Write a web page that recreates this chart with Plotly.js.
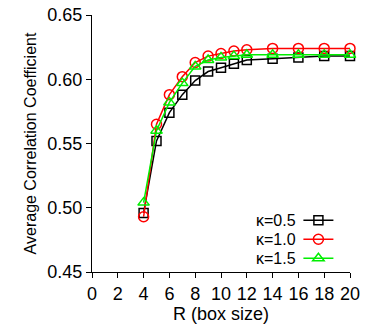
<!DOCTYPE html>
<html>
<head>
<meta charset="utf-8">
<script src="https://cdn.plot.ly/plotly-3.0.1.min.js"></script>
<style>html,body{margin:0;padding:0;background:#fff;}#chart{width:377px;height:332px;}</style>
</head>
<body>
<div id="chart"></div>
<script>
const R = [4, 5, 6, 7, 8, 9, 10, 11, 12, 14, 16, 18, 20];
const k05 = [0.496, 0.552, 0.574, 0.588, 0.599, 0.606, 0.609, 0.612, 0.615, 0.616, 0.617, 0.618, 0.618];
const k10 = [0.493, 0.565, 0.588, 0.602, 0.613, 0.618, 0.620, 0.622, 0.623, 0.624, 0.624, 0.624, 0.624];
const k15 = [0.504, 0.560, 0.582, 0.597, 0.610, 0.615, 0.617, 0.618, 0.619, 0.619, 0.619, 0.619, 0.619];
const seriesNames = ["κ=0.5", "κ=1.0", "κ=1.5"];
const xTicks = [0, 2, 4, 6, 8, 10, 12, 14, 16, 18, 20];
const yTicks = [0.45, 0.50, 0.55, 0.60, 0.65];

const FONT = "Liberation Sans, Arial, sans-serif";
const mk = (y, color, symbol, size) => ({
  x: R, y: y, type: 'scatter', mode: 'lines+markers', name: ' ',
  line: {color: color, width: 1.5},
  marker: {symbol: symbol, size: size, color: color, line: {color: color, width: 1.5}},
  cliponaxis: false
});
const traces = [
  mk(k05, '#000000', 'square-open', 9),
  mk(k10, '#ff0000', 'circle-open', 10),
  mk(k15, '#00ee00', 'triangle-up-open', 10)
];
const legendRowsY = [0.200, 0.127, 0.053];
const annotations = seriesNames.map((n, i) => ({
  xref: 'paper', yref: 'paper', x: 0.80, y: legendRowsY[i], xanchor: 'right', yanchor: 'middle',
  text: n, showarrow: false, font: {family: FONT, size: 16, color: '#000'}
}));
const layout = {
  width: 377, height: 332,
  margin: {l: 92, r: 27, t: 15, b: 60},
  paper_bgcolor: '#fff', plot_bgcolor: '#fff',
  font: {family: FONT, size: 18, color: '#000'},
  showlegend: true,
  legend: {x: 0.80, y: -0.003, xanchor: 'left', yanchor: 'bottom', bgcolor: 'rgba(0,0,0,0)',
           font: {size: 11}, itemwidth: 30, tracegroupgap: 0},
  xaxis: {range: [0, 20], tickvals: xTicks, ticktext: xTicks.map(String), ticks: 'outside', ticklen: 5,
          tickcolor: '#000', showline: true, linecolor: '#000', linewidth: 1, showgrid: false, zeroline: false,
          tickfont: {size: 18}, title: {text: 'R (box size)', font: {size: 18}, standoff: 4}},
  yaxis: {range: [0.45, 0.65], tickvals: yTicks, ticktext: yTicks.map(v => v.toFixed(2)), ticks: 'outside', ticklen: 5,
          tickcolor: '#000', showline: true, linecolor: '#000', linewidth: 1, showgrid: false, zeroline: false,
          tickfont: {size: 18}, title: {text: 'Average Correlation Coefficient', font: {size: 16}, standoff: 6}},
  annotations: annotations
};
Plotly.newPlot('chart', traces, layout, {displayModeBar: false, staticPlot: true});
</script>
</body>
</html>
